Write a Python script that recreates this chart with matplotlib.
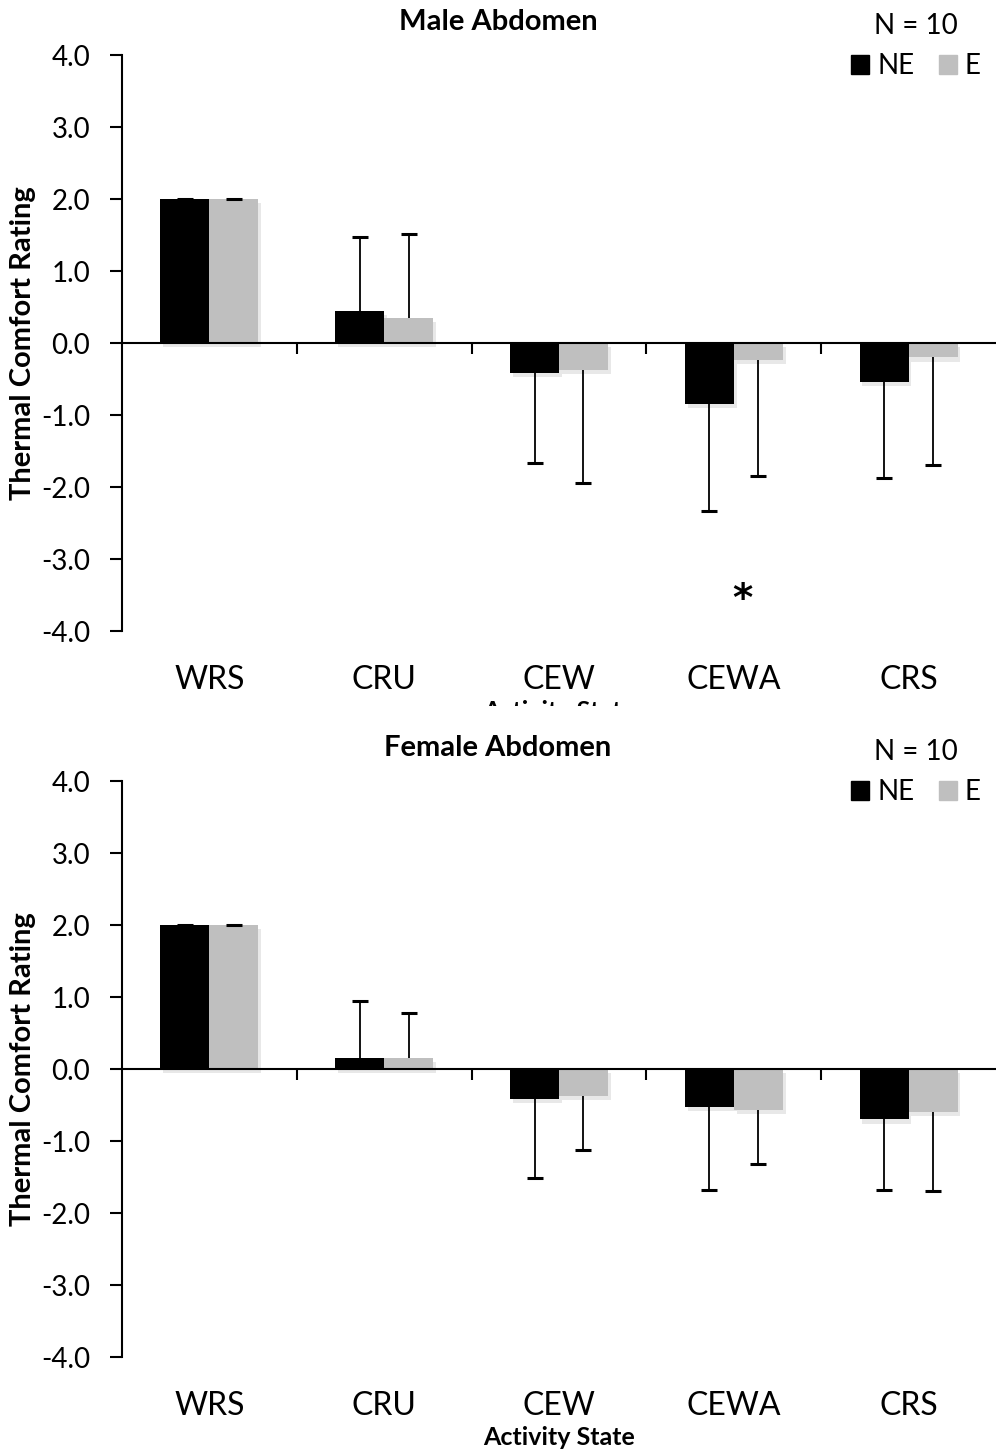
import numpy as np
import matplotlib
matplotlib.use("Agg")
import matplotlib.pyplot as plt
import matplotlib.patheffects as pe
from matplotlib.patches import Patch
from matplotlib.transforms import Bbox, TransformedBbox

plt.rcParams['font.family'] = ['Lato', 'DejaVu Sans']

# data
states = ["WRS", "CRU", "CEW", "CEWA", "CRS"]

male_ne = [2.0, 0.44, -0.42, -0.85, -0.54]
male_e = [2.0, 0.35, -0.375, -0.24, -0.20]
male_ne_sd = [0.0, 1.03, 1.24, 1.49, 1.33]
male_e_sd = [0.0, 1.16, 1.57, 1.61, 1.49]

female_ne = [2.0, 0.15, -0.42, -0.53, -0.70]
female_e = [2.0, 0.15, -0.37, -0.57, -0.60]
female_ne_sd = [0.0, 0.79, 1.10, 1.15, 0.98]
female_e_sd = [0.0, 0.63, 0.75, 0.75, 1.10]

# significance marker (category index, y)
male_sig = [(3.05, -3.57)]

NE_COL = "black"
E_COL = "#bfbfbf"
W = 0.28

W_PX, H_PX = 996, 1452
fig = plt.figure(figsize=(W_PX / 100, H_PX / 100), dpi=100)


def err_bars(ax, x, vals, sd):
    # one-sided error bars, cap only at the far end
    vals = np.array(vals)
    sd = np.array(sd)
    end = np.where(vals < 0, vals - sd, vals + sd)
    ax.vlines(x, vals, end, color="black", lw=1.3, zorder=3)
    ax.plot(x, end, ls="none", marker="_", ms=11, mew=2.2, color="black", zorder=3)


def panel(top_px, title, ne, e, ne_sd, e_sd, sig, clip_xlabel=False):
    left = 122 / W_PX
    width = 874 / W_PX
    height = 576 / H_PX
    bottom = 1 - (top_px + 576) / H_PX
    ax = fig.add_axes([left, bottom, width, height])
    x = np.arange(len(states))
    shadow = [pe.SimplePatchShadow(offset=(2, -3), shadow_rgbFace="gray", alpha=0.18), pe.Normal()]
    b1 = ax.bar(x - W / 2, ne, W, color=NE_COL, zorder=2)
    b2 = ax.bar(x + W / 2, e, W, color=E_COL, zorder=2)
    for b in list(b1) + list(b2):
        b.set_path_effects(shadow)
    err_bars(ax, x - W / 2, ne, ne_sd)
    err_bars(ax, x + W / 2, e, e_sd)

    ax.set_xlim(-0.5, len(states) - 0.5)
    ax.set_ylim(-4, 4)
    ax.set_yticks(np.arange(-4, 5, 1))
    ax.set_yticklabels([f"{v:.1f}" for v in np.arange(-4, 5, 1)], fontsize=20)
    ax.set_xticks(np.arange(0.5, len(states) - 1, 1))
    ax.set_xticklabels([])
    ax.tick_params(axis="y", direction="out", length=9, width=1.5, pad=14)
    ax.tick_params(axis="x", direction="out", length=8, width=1.5)
    for s in ["top", "right"]:
        ax.spines[s].set_visible(False)
    ax.spines["bottom"].set_position(("data", 0))
    ax.spines["bottom"].set_linewidth(1.5)
    ax.spines["left"].set_linewidth(1.5)
    ax.spines["bottom"].set_zorder(4)

    for i, s in enumerate(states):
        ax.text(i, -4.68, s, ha="center", va="center", fontsize=23, clip_on=False)

    for sx, sy in sig:
        ax.text(sx, sy, "*", ha="center", va="center", fontsize=28, fontweight="bold",
                family="DejaVu Sans")

    ax.set_ylabel("Thermal Comfort Rating", fontsize=21, fontweight="bold")
    ax.yaxis.set_label_coords(-0.098, 0.5)

    fig.text(498 / W_PX, 1 - (top_px - 33) / H_PX, title, ha="center", va="center",
             fontsize=21, fontweight="bold")

    ax.legend([Patch(color=NE_COL), Patch(color=E_COL)], ["NE", "E"], ncol=2,
              title="N = 10", frameon=False, fontsize=20, title_fontsize=20,
              handlelength=0.65, handleheight=0.65, handletextpad=0.3,
              columnspacing=0.85, borderaxespad=0,
              loc="upper right", bbox_to_anchor=(1 - 4 / 874, 1 + 53 / 576))

    t = fig.text(559 / W_PX, 1 - (top_px + 645) / H_PX, "Activity State", ha="center",
                 va="top", fontsize=18, fontweight="bold")
    if clip_xlabel:
        t.set_clip_box(TransformedBbox(Bbox([[0, 1 - 706 / H_PX], [1, 1]]), fig.transFigure))
        t.set_clip_on(True)
    return ax


panel(55, "Male Abdomen", male_ne, male_e, male_ne_sd, male_e_sd, male_sig, clip_xlabel=True)
panel(781, "Female Abdomen", female_ne, female_e, female_ne_sd, female_e_sd, [])

fig.savefig("out.png", dpi=100)
